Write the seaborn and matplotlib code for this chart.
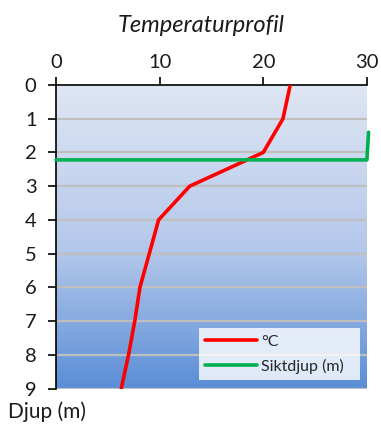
import numpy as np
import matplotlib
matplotlib.use("Agg")
import matplotlib.pyplot as plt
from matplotlib.colors import LinearSegmentedColormap
import seaborn as sns
import pandas as pd

# Temperature profile (°C) by depth (m)
depth = [0, 1, 2, 3, 4, 5, 6, 7, 8, 9]
temperature = [22.6, 21.9, 20.0, 12.9, 9.9, 9.0, 8.1, 7.6, 7.0, 6.3]

# Secchi depth (m) marker line
secchi_x = [0, 30, 30.16]
secchi_depth = [2.22, 2.22, 1.4]

x_ticks = [0, 10, 20, 30]
y_ticks = list(range(10))

sns.set_theme(style="white")
plt.rcParams["font.family"] = ["Lato", "DejaVu Sans"]

fig = plt.figure(figsize=(3.81, 4.24), dpi=100)
ax = fig.add_axes([0.147, 0.0837, 0.816, 0.7158])

# Water-column gradient background
cmap = LinearSegmentedColormap.from_list(
    "water", [(0, "#DFE6F4"), (0.55, "#B3C7EA"), (1, "#5A8ED7")])
grad = np.linspace(0, 1, 256).reshape(-1, 1)
ax.imshow(grad, cmap=cmap, aspect="auto", extent=[0, 30, 9, 0], zorder=0)

for d in y_ticks[1:]:
    ax.axhline(d, color="#BFBFBF", lw=1.6, zorder=1)

df_t = pd.DataFrame({"Temp": temperature, "Djup": depth})
df_s = pd.DataFrame({"x": secchi_x, "Djup": secchi_depth})
sns.lineplot(data=df_t, x="Temp", y="Djup", sort=False, color="#FF0000",
             lw=2.6, ax=ax, label="°C", zorder=3)
sns.lineplot(data=df_s, x="x", y="Djup", sort=False, color="#00B050",
             lw=2.6, ax=ax, label="Siktdjup (m)", zorder=3, clip_on=False)

ax.set_xlim(0, 30)
ax.set_ylim(9, 0)
ax.set_xlabel("")
ax.set_ylabel("")
ax.xaxis.tick_top()
ax.set_xticks(x_ticks)
ax.set_yticks(y_ticks)
ax.tick_params(axis="x", top=True, bottom=False, direction="out", length=6,
               width=1.2, color="black", labelsize=14.5, pad=4,
               labelcolor="#1a1a1a")
ax.tick_params(axis="y", left=True, direction="out", length=6, width=1.2,
               color="black", labelsize=14.5, pad=8, labelcolor="#1a1a1a")
for side in ("right", "bottom"):
    ax.spines[side].set_visible(False)
for side in ("left", "top"):
    ax.spines[side].set_color("black")
    ax.spines[side].set_linewidth(1.2)

leg = ax.legend(loc="lower left", bbox_to_anchor=(0.46, 0.028, 0.517, 0.181),
                mode="expand", fontsize=11.5, handlelength=3.2, frameon=True,
                fancybox=False, borderaxespad=0, labelspacing=0.6,
                handletextpad=0.3)
leg.get_frame().set_facecolor((1, 1, 1, 0.35))
leg.get_frame().set_edgecolor("none")

fig.text(0.528, 0.94, "Temperaturprofil", ha="center", va="center",
         fontsize=17, style="italic", color="#1a1a1a")
fig.text(0.02, 0.028, "Djup (m)", ha="left", va="center", fontsize=15,
         color="#1a1a1a")

fig.savefig("out.png", dpi=100)
